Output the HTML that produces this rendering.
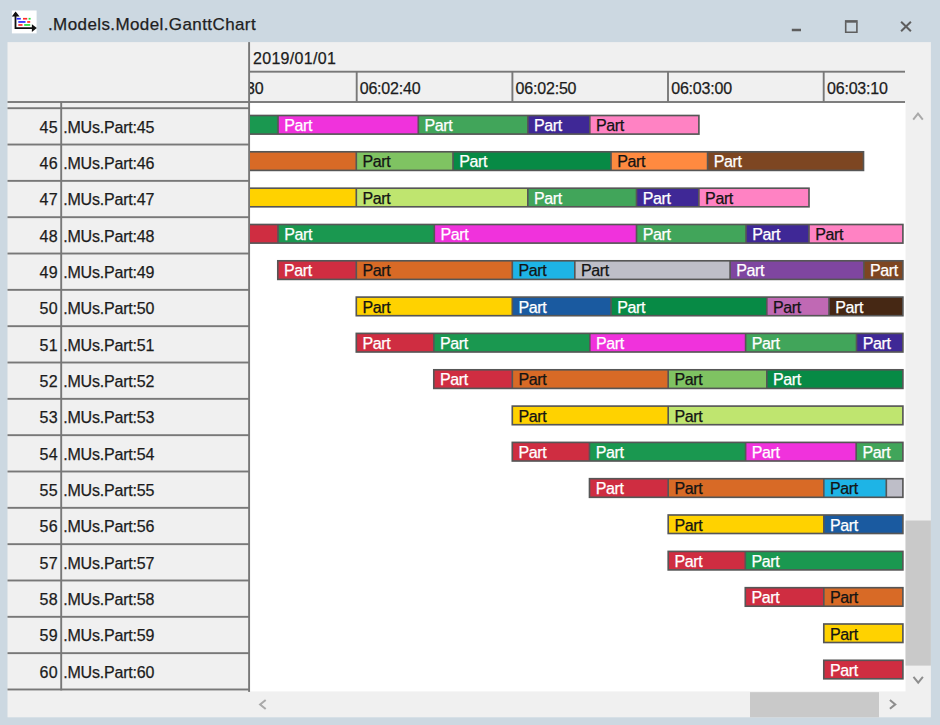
<!DOCTYPE html>
<html><head><meta charset="utf-8"><title>GanttChart</title>
<style>
html,body{margin:0;padding:0}
body{width:940px;height:725px;background:#ccd8e1;position:relative;overflow:hidden;font-family:"Liberation Sans",sans-serif;color:#1a1a1a}
.a{position:absolute}
.panel{left:7.5px;top:42px;width:923.5px;height:675.3px;background:#f0f0f0}
.ln{position:absolute;background:#7d7d7d}
.t{position:absolute;white-space:nowrap;font-size:16px;line-height:20px;color:#1c1c1c;letter-spacing:-0.2px;-webkit-text-stroke:0.25px #1c1c1c}
.seg{position:absolute;box-sizing:border-box;height:19.8px;border:1.5px solid #555;border-left-width:0;font-size:16px;line-height:17px;white-space:nowrap;overflow:hidden;letter-spacing:-0.3px}
.seg.first{border-left-width:1.5px}
.seg span{position:absolute;left:5.7px;top:1.4px;-webkit-text-stroke:0.25px currentColor}
</style></head><body>
<svg class="a" style="left:10px;top:8px" width="30" height="28" viewBox="10 8 30 28">
<rect x="11.9" y="10.5" width="24.7" height="22.9" fill="#fff"/>
<path d="M15.5 13 V28.05 H33" stroke="#111" stroke-width="1.8" fill="none"/>
<path d="M11.8 16.5 L15.6 11.5 L19.6 16.5 Z" fill="#111"/>
<path d="M31.9 24.2 L36.8 28.05 L31.9 31.9 Z" fill="#111"/>
<rect x="16.6" y="17.9" width="4.2" height="1.7" fill="#2a2aff"/>
<rect x="23" y="17.9" width="4.2" height="1.7" fill="#ff2a2a"/>
<rect x="28.6" y="17.9" width="2" height="1.7" fill="#22e03a"/>
<rect x="18.3" y="21.1" width="7.2" height="1.7" fill="#2a2aff"/>
<rect x="27.2" y="21.1" width="3" height="1.7" fill="#ff2a2a"/>
<rect x="18.3" y="24.1" width="4.2" height="1.7" fill="#ff2a2a"/>
<rect x="24.2" y="24.1" width="6" height="1.7" fill="#22e03a"/>
</svg>
<div class="t" style="left:48px;top:15px;font-size:17px;letter-spacing:0.4px;color:#222" id="title">.Models.Model.GanttChart</div>
<svg class="a" style="left:780px;top:10px" width="150" height="32" viewBox="780 10 150 32" fill="none" stroke="#5e5e5e">
<path d="M791.8 30 H801" stroke-width="2.5"/>
<path d="M845.7 22.3 V32.2 H856.9 V22.3" stroke-width="1.6"/>
<path d="M844.9 21.4 H857.7" stroke-width="2.6"/>
<path d="M901.1 21.8 L910.9 31.2 M910.9 21.8 L901.1 31.2" stroke-width="2"/>
</svg>
<svg class="a" style="left:0;top:0" width="940" height="725" viewBox="0 0 940 725">
<rect x="7.5" y="42.1" width="923.4" height="675.2" fill="#f0f0f0"/>
<rect x="250" y="103" width="655.5" height="588.4" fill="#fff"/>
<rect x="7.5" y="101.05" width="897.5" height="1.9" fill="#787878"/>
<rect x="250.0" y="70.75" width="655.0" height="1.9" fill="#787878"/>
<rect x="355.75" y="71.7" width="1.9" height="30.3" fill="#787878"/>
<rect x="511.45" y="71.7" width="1.9" height="30.3" fill="#787878"/>
<rect x="667.05" y="71.7" width="1.9" height="30.3" fill="#787878"/>
<rect x="822.75" y="71.7" width="1.9" height="30.3" fill="#787878"/>
<rect x="7.5" y="107.25" width="242.5" height="1.9" fill="#787878"/>
<rect x="7.5" y="143.58" width="242.5" height="1.9" fill="#787878"/>
<rect x="7.5" y="179.91" width="242.5" height="1.9" fill="#787878"/>
<rect x="7.5" y="216.24" width="242.5" height="1.9" fill="#787878"/>
<rect x="7.5" y="252.57" width="242.5" height="1.9" fill="#787878"/>
<rect x="7.5" y="288.90" width="242.5" height="1.9" fill="#787878"/>
<rect x="7.5" y="325.23" width="242.5" height="1.9" fill="#787878"/>
<rect x="7.5" y="361.56" width="242.5" height="1.9" fill="#787878"/>
<rect x="7.5" y="397.89" width="242.5" height="1.9" fill="#787878"/>
<rect x="7.5" y="434.22" width="242.5" height="1.9" fill="#787878"/>
<rect x="7.5" y="470.55" width="242.5" height="1.9" fill="#787878"/>
<rect x="7.5" y="506.88" width="242.5" height="1.9" fill="#787878"/>
<rect x="7.5" y="543.21" width="242.5" height="1.9" fill="#787878"/>
<rect x="7.5" y="579.54" width="242.5" height="1.9" fill="#787878"/>
<rect x="7.5" y="615.87" width="242.5" height="1.9" fill="#787878"/>
<rect x="7.5" y="652.20" width="242.5" height="1.9" fill="#787878"/>
<rect x="7.5" y="688.53" width="242.5" height="1.9" fill="#787878"/>
<rect x="60.25" y="102.0" width="1.9" height="588.4" fill="#787878"/>
<rect x="248.15" y="42.1" width="1.9" height="649.8" fill="#787878"/>
</svg>
<div class="t" style="left:253px;top:48.6px;letter-spacing:0.3px" id="date">2019/01/01</div>
<div class="a" style="left:250px;top:73px;width:30px;height:28px;overflow:hidden"><div class="t" style="left:-4px;top:5.8px">30</div></div>
<div class="t tm" style="left:359.7px;top:78.8px">06:02:40</div>
<div class="t tm" style="left:515.6px;top:78.8px">06:02:50</div>
<div class="t tm" style="left:671.2px;top:78.8px">06:03:00</div>
<div class="t tm" style="left:827px;top:78.8px">06:03:10</div>
<div class="t" style="left:7.5px;width:50.3px;text-align:right;letter-spacing:0.2px;top:117.7px">45</div><div class="t lb" style="left:63.2px;top:117.7px">.MUs.Part:45</div>
<div class="t" style="left:7.5px;width:50.3px;text-align:right;letter-spacing:0.2px;top:154.0px">46</div><div class="t lb" style="left:63.2px;top:154.0px">.MUs.Part:46</div>
<div class="t" style="left:7.5px;width:50.3px;text-align:right;letter-spacing:0.2px;top:190.3px">47</div><div class="t lb" style="left:63.2px;top:190.3px">.MUs.Part:47</div>
<div class="t" style="left:7.5px;width:50.3px;text-align:right;letter-spacing:0.2px;top:226.7px">48</div><div class="t lb" style="left:63.2px;top:226.7px">.MUs.Part:48</div>
<div class="t" style="left:7.5px;width:50.3px;text-align:right;letter-spacing:0.2px;top:263.0px">49</div><div class="t lb" style="left:63.2px;top:263.0px">.MUs.Part:49</div>
<div class="t" style="left:7.5px;width:50.3px;text-align:right;letter-spacing:0.2px;top:299.3px">50</div><div class="t lb" style="left:63.2px;top:299.3px">.MUs.Part:50</div>
<div class="t" style="left:7.5px;width:50.3px;text-align:right;letter-spacing:0.2px;top:335.6px">51</div><div class="t lb" style="left:63.2px;top:335.6px">.MUs.Part:51</div>
<div class="t" style="left:7.5px;width:50.3px;text-align:right;letter-spacing:0.2px;top:372.0px">52</div><div class="t lb" style="left:63.2px;top:372.0px">.MUs.Part:52</div>
<div class="t" style="left:7.5px;width:50.3px;text-align:right;letter-spacing:0.2px;top:408.3px">53</div><div class="t lb" style="left:63.2px;top:408.3px">.MUs.Part:53</div>
<div class="t" style="left:7.5px;width:50.3px;text-align:right;letter-spacing:0.2px;top:444.6px">54</div><div class="t lb" style="left:63.2px;top:444.6px">.MUs.Part:54</div>
<div class="t" style="left:7.5px;width:50.3px;text-align:right;letter-spacing:0.2px;top:481.0px">55</div><div class="t lb" style="left:63.2px;top:481.0px">.MUs.Part:55</div>
<div class="t" style="left:7.5px;width:50.3px;text-align:right;letter-spacing:0.2px;top:517.3px">56</div><div class="t lb" style="left:63.2px;top:517.3px">.MUs.Part:56</div>
<div class="t" style="left:7.5px;width:50.3px;text-align:right;letter-spacing:0.2px;top:553.6px">57</div><div class="t lb" style="left:63.2px;top:553.6px">.MUs.Part:57</div>
<div class="t" style="left:7.5px;width:50.3px;text-align:right;letter-spacing:0.2px;top:590.0px">58</div><div class="t lb" style="left:63.2px;top:590.0px">.MUs.Part:58</div>
<div class="t" style="left:7.5px;width:50.3px;text-align:right;letter-spacing:0.2px;top:626.3px">59</div><div class="t lb" style="left:63.2px;top:626.3px">.MUs.Part:59</div>
<div class="t" style="left:7.5px;width:50.3px;text-align:right;letter-spacing:0.2px;top:662.6px">60</div><div class="t lb" style="left:63.2px;top:662.6px">.MUs.Part:60</div>
<svg class="a" style="left:250px;top:103px" width="654" height="588" viewBox="250 103 654 588" font-family="Liberation Sans, sans-serif" font-size="16">
<rect x="240.0" y="115.5" width="38.0" height="18.6" fill="#1a9850"/><rect x="278.0" y="115.5" width="140.3" height="18.6" fill="#f032dc"/><rect x="418.3" y="115.5" width="109.5" height="18.6" fill="#41a55a"/><rect x="527.8" y="115.5" width="62.0" height="18.6" fill="#3f2896"/><rect x="589.8" y="115.5" width="109.1" height="18.6" fill="#ff82c3"/><path d="M278.0 115.5V134.1" stroke="#565656" stroke-width="1.65"/><path d="M418.3 115.5V134.1" stroke="#565656" stroke-width="1.65"/><path d="M527.8 115.5V134.1" stroke="#565656" stroke-width="1.65"/><path d="M589.8 115.5V134.1" stroke="#565656" stroke-width="1.65"/><rect x="240.0" y="115.5" width="458.9" height="18.6" fill="none" stroke="#565656" stroke-width="1.65"/><text x="284.2" y="131.0" fill="#fff" stroke="#fff" stroke-width="0.25" textLength="28.2" lengthAdjust="spacing">Part</text><text x="424.5" y="131.0" fill="#fff" stroke="#fff" stroke-width="0.25" textLength="28.2" lengthAdjust="spacing">Part</text><text x="534.0" y="131.0" fill="#fff" stroke="#fff" stroke-width="0.25" textLength="28.2" lengthAdjust="spacing">Part</text><text x="596.0" y="131.0" fill="#141414" stroke="#141414" stroke-width="0.25" textLength="28.2" lengthAdjust="spacing">Part</text>
<rect x="240.0" y="151.8" width="116.3" height="18.6" fill="#d86a26"/><rect x="356.3" y="151.8" width="96.7" height="18.6" fill="#7fc362"/><rect x="453.0" y="151.8" width="158.0" height="18.6" fill="#078a45"/><rect x="611.0" y="151.8" width="96.6" height="18.6" fill="#ff8a40"/><rect x="707.6" y="151.8" width="155.9" height="18.6" fill="#7d4622"/><path d="M356.3 151.8V170.4" stroke="#565656" stroke-width="1.65"/><path d="M453.0 151.8V170.4" stroke="#565656" stroke-width="1.65"/><path d="M611.0 151.8V170.4" stroke="#565656" stroke-width="1.65"/><path d="M707.6 151.8V170.4" stroke="#565656" stroke-width="1.65"/><rect x="240.0" y="151.8" width="623.5" height="18.6" fill="none" stroke="#565656" stroke-width="1.65"/><text x="362.5" y="167.3" fill="#141414" stroke="#141414" stroke-width="0.25" textLength="28.2" lengthAdjust="spacing">Part</text><text x="459.2" y="167.3" fill="#fff" stroke="#fff" stroke-width="0.25" textLength="28.2" lengthAdjust="spacing">Part</text><text x="617.2" y="167.3" fill="#141414" stroke="#141414" stroke-width="0.25" textLength="28.2" lengthAdjust="spacing">Part</text><text x="713.8" y="167.3" fill="#fff" stroke="#fff" stroke-width="0.25" textLength="28.2" lengthAdjust="spacing">Part</text>
<rect x="240.0" y="188.2" width="116.3" height="18.6" fill="#ffd200"/><rect x="356.3" y="188.2" width="171.5" height="18.6" fill="#bfe56f"/><rect x="527.8" y="188.2" width="108.7" height="18.6" fill="#41a55a"/><rect x="636.5" y="188.2" width="62.4" height="18.6" fill="#3f2896"/><rect x="698.9" y="188.2" width="110.1" height="18.6" fill="#ff82c3"/><path d="M356.3 188.2V206.7" stroke="#565656" stroke-width="1.65"/><path d="M527.8 188.2V206.7" stroke="#565656" stroke-width="1.65"/><path d="M636.5 188.2V206.7" stroke="#565656" stroke-width="1.65"/><path d="M698.9 188.2V206.7" stroke="#565656" stroke-width="1.65"/><rect x="240.0" y="188.2" width="569.0" height="18.6" fill="none" stroke="#565656" stroke-width="1.65"/><text x="362.5" y="203.6" fill="#141414" stroke="#141414" stroke-width="0.25" textLength="28.2" lengthAdjust="spacing">Part</text><text x="534.0" y="203.6" fill="#fff" stroke="#fff" stroke-width="0.25" textLength="28.2" lengthAdjust="spacing">Part</text><text x="642.7" y="203.6" fill="#fff" stroke="#fff" stroke-width="0.25" textLength="28.2" lengthAdjust="spacing">Part</text><text x="705.1" y="203.6" fill="#141414" stroke="#141414" stroke-width="0.25" textLength="28.2" lengthAdjust="spacing">Part</text>
<rect x="240.0" y="224.5" width="38.0" height="18.6" fill="#cf2d41"/><rect x="278.0" y="224.5" width="156.3" height="18.6" fill="#1a9850"/><rect x="434.3" y="224.5" width="202.2" height="18.6" fill="#f032dc"/><rect x="636.5" y="224.5" width="109.5" height="18.6" fill="#41a55a"/><rect x="746.0" y="224.5" width="63.0" height="18.6" fill="#3f2896"/><rect x="809.0" y="224.5" width="93.9" height="18.6" fill="#ff82c3"/><path d="M278.0 224.5V243.0" stroke="#565656" stroke-width="1.65"/><path d="M434.3 224.5V243.0" stroke="#565656" stroke-width="1.65"/><path d="M636.5 224.5V243.0" stroke="#565656" stroke-width="1.65"/><path d="M746.0 224.5V243.0" stroke="#565656" stroke-width="1.65"/><path d="M809.0 224.5V243.0" stroke="#565656" stroke-width="1.65"/><rect x="240.0" y="224.5" width="662.9" height="18.6" fill="none" stroke="#565656" stroke-width="1.65"/><text x="284.2" y="240.0" fill="#fff" stroke="#fff" stroke-width="0.25" textLength="28.2" lengthAdjust="spacing">Part</text><text x="440.5" y="240.0" fill="#fff" stroke="#fff" stroke-width="0.25" textLength="28.2" lengthAdjust="spacing">Part</text><text x="642.7" y="240.0" fill="#fff" stroke="#fff" stroke-width="0.25" textLength="28.2" lengthAdjust="spacing">Part</text><text x="752.2" y="240.0" fill="#fff" stroke="#fff" stroke-width="0.25" textLength="28.2" lengthAdjust="spacing">Part</text><text x="815.2" y="240.0" fill="#141414" stroke="#141414" stroke-width="0.25" textLength="28.2" lengthAdjust="spacing">Part</text>
<rect x="277.8" y="260.8" width="78.5" height="18.6" fill="#cf2d41"/><rect x="356.3" y="260.8" width="156.0" height="18.6" fill="#d86a26"/><rect x="512.3" y="260.8" width="62.5" height="18.6" fill="#1eb4e6"/><rect x="574.8" y="260.8" width="155.3" height="18.6" fill="#bebec8"/><rect x="730.1" y="260.8" width="133.7" height="18.6" fill="#7f46a0"/><rect x="863.8" y="260.8" width="39.1" height="18.6" fill="#7d4622"/><path d="M356.3 260.8V279.4" stroke="#565656" stroke-width="1.65"/><path d="M512.3 260.8V279.4" stroke="#565656" stroke-width="1.65"/><path d="M574.8 260.8V279.4" stroke="#565656" stroke-width="1.65"/><path d="M730.1 260.8V279.4" stroke="#565656" stroke-width="1.65"/><path d="M863.8 260.8V279.4" stroke="#565656" stroke-width="1.65"/><rect x="277.8" y="260.8" width="625.1" height="18.6" fill="none" stroke="#565656" stroke-width="1.65"/><text x="284.0" y="276.3" fill="#fff" stroke="#fff" stroke-width="0.25" textLength="28.2" lengthAdjust="spacing">Part</text><text x="362.5" y="276.3" fill="#141414" stroke="#141414" stroke-width="0.25" textLength="28.2" lengthAdjust="spacing">Part</text><text x="518.5" y="276.3" fill="#141414" stroke="#141414" stroke-width="0.25" textLength="28.2" lengthAdjust="spacing">Part</text><text x="581.0" y="276.3" fill="#141414" stroke="#141414" stroke-width="0.25" textLength="28.2" lengthAdjust="spacing">Part</text><text x="736.3" y="276.3" fill="#fff" stroke="#fff" stroke-width="0.25" textLength="28.2" lengthAdjust="spacing">Part</text><text x="870.0" y="276.3" fill="#fff" stroke="#fff" stroke-width="0.25" textLength="28.2" lengthAdjust="spacing">Part</text>
<rect x="356.3" y="297.1" width="156.0" height="18.6" fill="#ffd200"/><rect x="512.3" y="297.1" width="98.7" height="18.6" fill="#1a5aa0"/><rect x="611.0" y="297.1" width="155.8" height="18.6" fill="#078a45"/><rect x="766.8" y="297.1" width="62.2" height="18.6" fill="#c069b4"/><rect x="829.0" y="297.1" width="73.9" height="18.6" fill="#462814"/><path d="M512.3 297.1V315.7" stroke="#565656" stroke-width="1.65"/><path d="M611.0 297.1V315.7" stroke="#565656" stroke-width="1.65"/><path d="M766.8 297.1V315.7" stroke="#565656" stroke-width="1.65"/><path d="M829.0 297.1V315.7" stroke="#565656" stroke-width="1.65"/><rect x="356.3" y="297.1" width="546.6" height="18.6" fill="none" stroke="#565656" stroke-width="1.65"/><text x="362.5" y="312.6" fill="#141414" stroke="#141414" stroke-width="0.25" textLength="28.2" lengthAdjust="spacing">Part</text><text x="518.5" y="312.6" fill="#fff" stroke="#fff" stroke-width="0.25" textLength="28.2" lengthAdjust="spacing">Part</text><text x="617.2" y="312.6" fill="#fff" stroke="#fff" stroke-width="0.25" textLength="28.2" lengthAdjust="spacing">Part</text><text x="773.0" y="312.6" fill="#141414" stroke="#141414" stroke-width="0.25" textLength="28.2" lengthAdjust="spacing">Part</text><text x="835.2" y="312.6" fill="#fff" stroke="#fff" stroke-width="0.25" textLength="28.2" lengthAdjust="spacing">Part</text>
<rect x="356.3" y="333.4" width="77.5" height="18.6" fill="#cf2d41"/><rect x="433.8" y="333.4" width="156.0" height="18.6" fill="#1a9850"/><rect x="589.8" y="333.4" width="155.8" height="18.6" fill="#f032dc"/><rect x="745.6" y="333.4" width="110.9" height="18.6" fill="#41a55a"/><rect x="856.5" y="333.4" width="46.4" height="18.6" fill="#3f2896"/><path d="M433.8 333.4V352.0" stroke="#565656" stroke-width="1.65"/><path d="M589.8 333.4V352.0" stroke="#565656" stroke-width="1.65"/><path d="M745.6 333.4V352.0" stroke="#565656" stroke-width="1.65"/><path d="M856.5 333.4V352.0" stroke="#565656" stroke-width="1.65"/><rect x="356.3" y="333.4" width="546.6" height="18.6" fill="none" stroke="#565656" stroke-width="1.65"/><text x="362.5" y="348.9" fill="#fff" stroke="#fff" stroke-width="0.25" textLength="28.2" lengthAdjust="spacing">Part</text><text x="440.0" y="348.9" fill="#fff" stroke="#fff" stroke-width="0.25" textLength="28.2" lengthAdjust="spacing">Part</text><text x="596.0" y="348.9" fill="#fff" stroke="#fff" stroke-width="0.25" textLength="28.2" lengthAdjust="spacing">Part</text><text x="751.8" y="348.9" fill="#fff" stroke="#fff" stroke-width="0.25" textLength="28.2" lengthAdjust="spacing">Part</text><text x="862.7" y="348.9" fill="#fff" stroke="#fff" stroke-width="0.25" textLength="28.2" lengthAdjust="spacing">Part</text>
<rect x="433.8" y="369.8" width="78.5" height="18.6" fill="#cf2d41"/><rect x="512.3" y="369.8" width="155.9" height="18.6" fill="#d86a26"/><rect x="668.2" y="369.8" width="98.6" height="18.6" fill="#7fc362"/><rect x="766.8" y="369.8" width="136.1" height="18.6" fill="#078a45"/><path d="M512.3 369.8V388.3" stroke="#565656" stroke-width="1.65"/><path d="M668.2 369.8V388.3" stroke="#565656" stroke-width="1.65"/><path d="M766.8 369.8V388.3" stroke="#565656" stroke-width="1.65"/><rect x="433.8" y="369.8" width="469.1" height="18.6" fill="none" stroke="#565656" stroke-width="1.65"/><text x="440.0" y="385.2" fill="#fff" stroke="#fff" stroke-width="0.25" textLength="28.2" lengthAdjust="spacing">Part</text><text x="518.5" y="385.2" fill="#141414" stroke="#141414" stroke-width="0.25" textLength="28.2" lengthAdjust="spacing">Part</text><text x="674.4" y="385.2" fill="#141414" stroke="#141414" stroke-width="0.25" textLength="28.2" lengthAdjust="spacing">Part</text><text x="773.0" y="385.2" fill="#fff" stroke="#fff" stroke-width="0.25" textLength="28.2" lengthAdjust="spacing">Part</text>
<rect x="512.3" y="406.1" width="155.9" height="18.6" fill="#ffd200"/><rect x="668.2" y="406.1" width="234.7" height="18.6" fill="#bfe56f"/><path d="M668.2 406.1V424.6" stroke="#565656" stroke-width="1.65"/><rect x="512.3" y="406.1" width="390.6" height="18.6" fill="none" stroke="#565656" stroke-width="1.65"/><text x="518.5" y="421.6" fill="#141414" stroke="#141414" stroke-width="0.25" textLength="28.2" lengthAdjust="spacing">Part</text><text x="674.4" y="421.6" fill="#141414" stroke="#141414" stroke-width="0.25" textLength="28.2" lengthAdjust="spacing">Part</text>
<rect x="512.3" y="442.4" width="77.2" height="18.6" fill="#cf2d41"/><rect x="589.5" y="442.4" width="156.1" height="18.6" fill="#1a9850"/><rect x="745.6" y="442.4" width="110.6" height="18.6" fill="#f032dc"/><rect x="856.2" y="442.4" width="46.7" height="18.6" fill="#41a55a"/><path d="M589.5 442.4V461.0" stroke="#565656" stroke-width="1.65"/><path d="M745.6 442.4V461.0" stroke="#565656" stroke-width="1.65"/><path d="M856.2 442.4V461.0" stroke="#565656" stroke-width="1.65"/><rect x="512.3" y="442.4" width="390.6" height="18.6" fill="none" stroke="#565656" stroke-width="1.65"/><text x="518.5" y="457.9" fill="#fff" stroke="#fff" stroke-width="0.25" textLength="28.2" lengthAdjust="spacing">Part</text><text x="595.7" y="457.9" fill="#fff" stroke="#fff" stroke-width="0.25" textLength="28.2" lengthAdjust="spacing">Part</text><text x="751.8" y="457.9" fill="#fff" stroke="#fff" stroke-width="0.25" textLength="28.2" lengthAdjust="spacing">Part</text><text x="862.4" y="457.9" fill="#fff" stroke="#fff" stroke-width="0.25" textLength="28.2" lengthAdjust="spacing">Part</text>
<rect x="589.5" y="478.7" width="78.7" height="18.6" fill="#cf2d41"/><rect x="668.2" y="478.7" width="155.6" height="18.6" fill="#d86a26"/><rect x="823.8" y="478.7" width="62.5" height="18.6" fill="#1eb4e6"/><rect x="886.3" y="478.7" width="16.6" height="18.6" fill="#bebec8"/><path d="M668.2 478.7V497.3" stroke="#565656" stroke-width="1.65"/><path d="M823.8 478.7V497.3" stroke="#565656" stroke-width="1.65"/><path d="M886.3 478.7V497.3" stroke="#565656" stroke-width="1.65"/><rect x="589.5" y="478.7" width="313.4" height="18.6" fill="none" stroke="#565656" stroke-width="1.65"/><text x="595.7" y="494.2" fill="#fff" stroke="#fff" stroke-width="0.25" textLength="28.2" lengthAdjust="spacing">Part</text><text x="674.4" y="494.2" fill="#141414" stroke="#141414" stroke-width="0.25" textLength="28.2" lengthAdjust="spacing">Part</text><text x="830.0" y="494.2" fill="#141414" stroke="#141414" stroke-width="0.25" textLength="28.2" lengthAdjust="spacing">Part</text>
<rect x="668.2" y="515.0" width="155.6" height="18.5" fill="#ffd200"/><rect x="823.8" y="515.0" width="79.1" height="18.5" fill="#1a5aa0"/><path d="M823.8 515.0V533.6" stroke="#565656" stroke-width="1.65"/><rect x="668.2" y="515.0" width="234.7" height="18.5" fill="none" stroke="#565656" stroke-width="1.65"/><text x="674.4" y="530.5" fill="#141414" stroke="#141414" stroke-width="0.25" textLength="28.2" lengthAdjust="spacing">Part</text><text x="830.0" y="530.5" fill="#fff" stroke="#fff" stroke-width="0.25" textLength="28.2" lengthAdjust="spacing">Part</text>
<rect x="668.2" y="551.4" width="77.1" height="18.5" fill="#cf2d41"/><rect x="745.3" y="551.4" width="157.6" height="18.5" fill="#1a9850"/><path d="M745.3 551.4V569.9" stroke="#565656" stroke-width="1.65"/><rect x="668.2" y="551.4" width="234.7" height="18.5" fill="none" stroke="#565656" stroke-width="1.65"/><text x="674.4" y="566.8" fill="#fff" stroke="#fff" stroke-width="0.25" textLength="28.2" lengthAdjust="spacing">Part</text><text x="751.5" y="566.8" fill="#fff" stroke="#fff" stroke-width="0.25" textLength="28.2" lengthAdjust="spacing">Part</text>
<rect x="745.3" y="587.7" width="78.5" height="18.5" fill="#cf2d41"/><rect x="823.8" y="587.7" width="79.1" height="18.5" fill="#d86a26"/><path d="M823.8 587.7V606.2" stroke="#565656" stroke-width="1.65"/><rect x="745.3" y="587.7" width="157.6" height="18.5" fill="none" stroke="#565656" stroke-width="1.65"/><text x="751.5" y="603.2" fill="#fff" stroke="#fff" stroke-width="0.25" textLength="28.2" lengthAdjust="spacing">Part</text><text x="830.0" y="603.2" fill="#141414" stroke="#141414" stroke-width="0.25" textLength="28.2" lengthAdjust="spacing">Part</text>
<rect x="823.8" y="624.0" width="79.1" height="18.5" fill="#ffd200"/><rect x="823.8" y="624.0" width="79.1" height="18.5" fill="none" stroke="#565656" stroke-width="1.65"/><text x="830.0" y="639.5" fill="#141414" stroke="#141414" stroke-width="0.25" textLength="28.2" lengthAdjust="spacing">Part</text>
<rect x="823.8" y="660.3" width="79.1" height="18.5" fill="#cf2d41"/><rect x="823.8" y="660.3" width="79.1" height="18.5" fill="none" stroke="#565656" stroke-width="1.65"/><text x="830.0" y="675.8" fill="#fff" stroke="#fff" stroke-width="0.25" textLength="28.2" lengthAdjust="spacing">Part</text>
</svg>
<svg class="a" style="left:0;top:0" width="940" height="725" viewBox="0 0 940 725" fill="none" stroke-width="2">
<rect x="905.5" y="520.5" width="25.4" height="145.1" fill="#c9c9c9"/>
<rect x="750" y="692.2" width="129" height="25.1" fill="#c9c9c9"/>
<path d="M913.2 119.6 L918 113.6 L922.8 119.6" stroke="#a9a9a9"/>
<path d="M913.5 676.9 L918.2 682.7 L922.9 676.9" stroke="#8e8e8e"/>
<path d="M265.7 699.9 L260.1 704.5 L265.7 709.1" stroke="#a9a9a9"/>
<path d="M889.9 700 L895.3 704.4 L889.9 708.8" stroke="#8e8e8e"/>
</svg>
</body></html>
